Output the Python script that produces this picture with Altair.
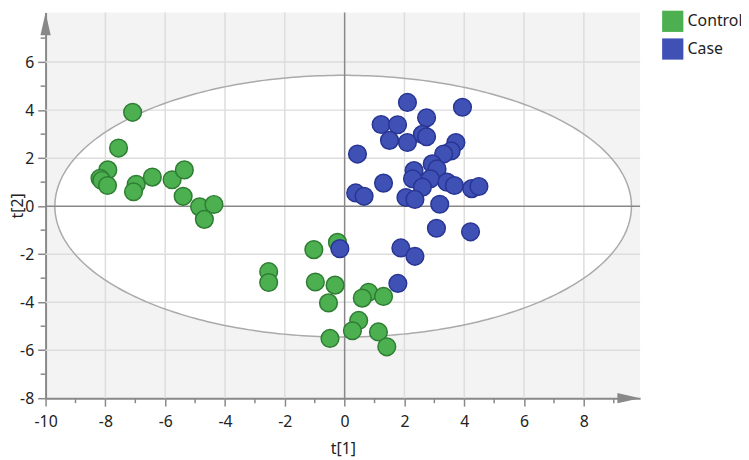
import altair as alt
import pandas as pd
import numpy as np

# ---- data ----
control_x = [-7.09, -7.56, -7.92, -8.18, -8.12, -7.93, -6.97, -7.06, -6.43, -5.77,
             -5.36, -5.40, -4.85, -4.37, -4.69,
             -0.24, -1.03, -2.54, -2.54, -0.98, -0.32, -0.54, 0.80, 0.59, 1.30,
             0.47, 0.26, 1.13, 1.41, -0.49]
control_y = [3.91, 2.42, 1.51, 1.16, 1.07, 0.86, 0.91, 0.60, 1.21, 1.10,
             1.51, 0.41, -0.03, 0.07, -0.55,
             -1.51, -1.81, -2.73, -3.18, -3.16, -3.29, -4.03, -3.59, -3.83, -3.76,
             -4.76, -5.19, -5.24, -5.86, -5.51]

case_x = [-0.16, 1.88, 2.35, 1.78,
          2.10, 3.94, 1.22, 1.77, 2.74, 2.60, 2.74, 1.50, 2.10, 0.43,
          3.72, 3.56, 3.31, 2.93, 3.09, 2.32, 2.27, 2.87, 2.60, 3.42,
          3.67, 1.30, 0.37, 0.65, 2.05, 2.35, 4.25, 4.49, 3.18, 3.07, 4.21]
case_y = [-1.77, -1.74, -2.09, -3.22,
          4.32, 4.12, 3.40, 3.39, 3.68, 2.99, 2.89, 2.74, 2.65, 2.17,
          2.65, 2.30, 2.17, 1.76, 1.55, 1.48, 1.14, 1.14, 0.79, 1.00,
          0.86, 0.96, 0.55, 0.41, 0.36, 0.28, 0.73, 0.82, 0.08, -0.92, -1.07]

groups = ["Control", "Case"]
group_colors = ["#4CAF50", "#3F51B5"]
group_strokes = ["#2E7D32", "#283593"]

x_ticks = [-10, -8, -6, -4, -2, 0, 2, 4, 6, 8]
y_ticks = [-8, -6, -4, -2, 0, 2, 4, 6]
x_minor = [-9, -7, -5, -3, -1, 1, 3, 5, 7, 9]
y_minor = [-7, -5, -3, -1, 1, 3, 5, 7]
x_grid = [-8, -6, -4, -2, 2, 4, 6, 8]
y_grid = [-6, -4, -2, 2, 4, 6]

x_domain = [-10, 9.88]
y_domain = [-8, 8.07]

# Hotelling ellipse parameters
ell_cx, ell_cy = -0.05, 0.0
ell_a, ell_b = 9.64, 5.45

W, H = 601, 390
FONT = "Noto Sans"
LABEL_EXPR = "datum.value < 0 ? '-' + abs(datum.value) : '' + datum.value"

# ---- build tables ----
pts = pd.DataFrame({
    "x": control_x + case_x,
    "y": control_y + case_y,
    "group": ["Control"] * len(control_x) + ["Case"] * len(case_x),
    "ord": [0] * len(control_x) + [1] * len(case_x),
})

t = np.linspace(0, np.pi, 181)
ex = ell_cx - ell_a * np.cos(t)
eh = ell_b * np.sin(t)
ell_area = pd.DataFrame({"x": ex, "y": ell_cy + eh, "y2": ell_cy - eh})
tt = np.linspace(0, 2 * np.pi, 361)
ell_line = pd.DataFrame({"x": ell_cx + ell_a * np.cos(tt),
                         "y": ell_cy + ell_b * np.sin(tt),
                         "o": np.arange(len(tt))})

xs = alt.Scale(domain=x_domain, nice=False, zero=False)
ys = alt.Scale(domain=y_domain, nice=False, zero=False)

x_axis = alt.Axis(values=x_ticks, grid=False, tickSize=8, tickWidth=1.5, tickColor="#888888",
                  domainColor="#888888", domainWidth=2, labelFontSize=16, labelFont=FONT,
                  labelColor="#222222", labelPadding=8, titleFontSize=16, titleFont=FONT,
                  titleFontWeight="normal", titleColor="#222222", titlePadding=11,
                  labelFlush=False, labelExpr=LABEL_EXPR)
y_axis = alt.Axis(values=y_ticks, grid=False, tickSize=8, tickWidth=1.5, tickColor="#888888",
                  domainColor="#888888", domainWidth=2, labelFontSize=16, labelFont=FONT,
                  labelColor="#222222", labelPadding=4, titleFontSize=16, titleFont=FONT,
                  titleFontWeight="normal", titleColor="#222222",
                  titleX=-28, titleY=H / 2, titleBaseline="middle", titleAngle=270,
                  labelFlush=False, labelExpr=LABEL_EXPR)

area = alt.Chart(ell_area).mark_area(color="white", opacity=1).encode(
    x=alt.X("x:Q", scale=xs, axis=x_axis, title="t[1]"),
    y=alt.Y("y:Q", scale=ys, axis=y_axis, title="t[2]"),
    y2="y2:Q",
)

gx = alt.Chart(pd.DataFrame({"v": x_grid})).mark_rule(color="#dddddd", strokeWidth=1.5).encode(
    x=alt.X("v:Q", scale=xs))
gy = alt.Chart(pd.DataFrame({"v": y_grid})).mark_rule(color="#dddddd", strokeWidth=1.5).encode(
    y=alt.Y("v:Q", scale=ys))

eline = alt.Chart(ell_line).mark_line(color="#aaaaaa", strokeWidth=1.5).encode(
    x=alt.X("x:Q", scale=xs), y=alt.Y("y:Q", scale=ys), order="o:Q")

zx = alt.Chart(pd.DataFrame({"v": [0]})).mark_rule(color="#888888", strokeWidth=1.5).encode(
    x=alt.X("v:Q", scale=xs))
zy = alt.Chart(pd.DataFrame({"v": [0]})).mark_rule(color="#888888", strokeWidth=1.5).encode(
    y=alt.Y("v:Q", scale=ys))

mx = alt.Chart(pd.DataFrame({"v": x_minor})).mark_rule(color="#888888", strokeWidth=1.5).encode(
    x=alt.X("v:Q", scale=xs), y=alt.value(H), y2=alt.value(H + 5))
my = alt.Chart(pd.DataFrame({"v": y_minor})).mark_rule(color="#888888", strokeWidth=1.5).encode(
    y=alt.Y("v:Q", scale=ys), x=alt.value(-5), x2=alt.value(0))

points = alt.Chart(pts).mark_circle(size=320, opacity=1, strokeWidth=1.5).encode(
    x=alt.X("x:Q", scale=xs),
    y=alt.Y("y:Q", scale=ys),
    color=alt.Color("group:N", scale=alt.Scale(domain=groups, range=group_colors),
                    legend=alt.Legend(title=None, orient="none", legendX=623, legendY=-2,
                                      symbolType="square", symbolSize=460,
                                      symbolStrokeWidth=0, symbolOpacity=1,
                                      labelFontSize=16, labelFont=FONT, labelColor="#222222",
                                      labelOffset=4, rowPadding=6)),
    stroke=alt.Stroke("group:N", scale=alt.Scale(domain=groups, range=group_strokes), legend=None),
    order="ord:Q",
)

arrow_up = alt.Chart(pd.DataFrame({"a": [1]})).mark_point(
    shape="M -0.45 1 L 0 -1 L 0.45 1 Z", size=529, filled=True, color="#888888", opacity=1
).encode(x=alt.value(0), y=alt.value(11.5))
arrow_right = alt.Chart(pd.DataFrame({"a": [1]})).mark_point(
    shape="M -1 -0.45 L 1 0 L -1 0.45 Z", size=529, filled=True, color="#888888", opacity=1
).encode(x=alt.value(W - 11.5), y=alt.value(H))

chart = alt.layer(area, gx, gy, eline, zx, zy, mx, my, points, arrow_up, arrow_right).properties(
    width=W, height=H,
    autosize=alt.AutoSizeParams(type="none"),
    padding={"left": 38, "top": 2, "right": 102, "bottom": 60},
).configure_view(fill="#f3f3f3", stroke=None)

chart.save("out.html", embed_options={"renderer": "svg", "actions": False})
